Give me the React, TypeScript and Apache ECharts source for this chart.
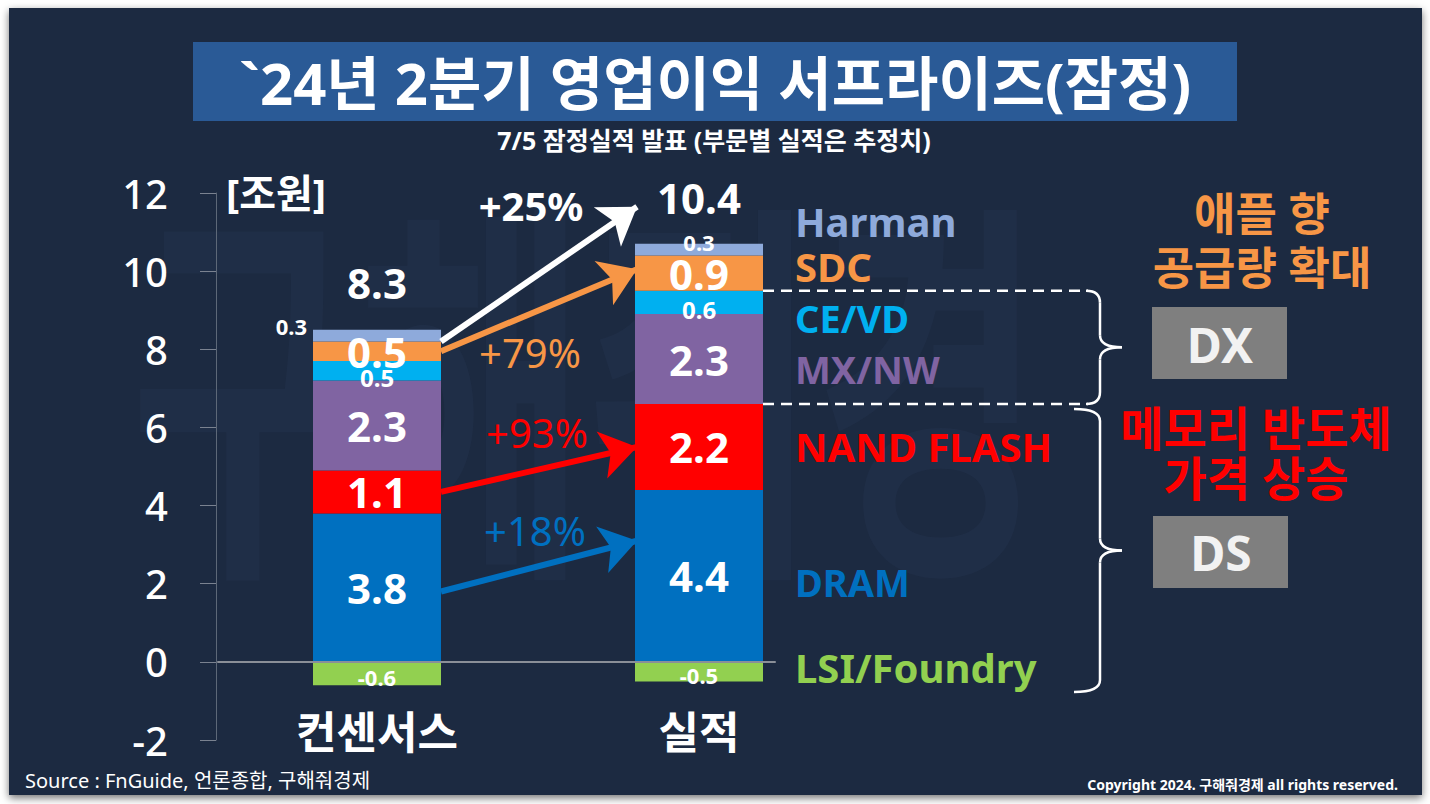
import React, { useEffect, useRef } from "react";
import * as echarts from "echarts";

// ---------- data ----------
const categories = ["컨센서스", "실적"];
const dram = [3.8, 4.4];
const nand = [1.1, 2.2];
const mxnw = [2.3, 2.3];
const cevd = [0.5, 0.6];
const sdc = [0.5, 0.9];
const harman = [0.3, 0.3];
const lsi = [-0.6, -0.5];
const totals = [8.3, 10.4];
const yMin = -2;
const yMax = 12;
const yInterval = 2;
const growthLabels = ["+25%", "+79%", "+93%", "+18%"];
const arrowFrom = [8.2, 7.95, 4.35, 1.8];
const arrowTo = [11.65, 10.05, 5.5, 3.1];

const C = {
  bg: "#1c2a41",
  title: "#2a5a96",
  harman: "#8eaadb",
  sdc: "#f79646",
  cevd: "#00b0f0",
  mxnw: "#8064a2",
  nand: "#ff0000",
  dram: "#0070c0",
  lsi: "#92d050",
  box: "#7f7f7f",
};
const arrowColors = ["#ffffff", C.sdc, C.nand, C.dram];
const FONT = "'Noto Sans', 'Noto Sans CJK KR', sans-serif";

const GRID_LEFT = 216;
const GRID_TOP = 193;
const GRID_W = 644;
const GRID_H = 547;
const BAR_W = 128;
const ARROW_HEAD = 36;

function txt(text: string, x: number, y: number, size: number, fill: string, opts: any = {}) {
  return {
    type: "text",
    x,
    y,
    z: 30,
    style: {
      text,
      fill,
      fontSize: size,
      fontWeight: opts.weight ?? "bold",
      fontFamily: FONT,
      align: opts.align ?? "center",
      verticalAlign: "middle",
    },
  };
}

function brace(xl: number, xv: number, xt: number, top: number, bottom: number) {
  const mid = (top + bottom) / 2;
  const r = 12;
  const s = { stroke: "#ffffff", lineWidth: 2.5, fill: "none" };
  return [
    { type: "bezierCurve", z: 30, shape: { x1: xl, y1: top, cpx1: xv, cpy1: top, x2: xv, y2: top + r }, style: s },
    { type: "line", z: 30, shape: { x1: xv, y1: top + r, x2: xv, y2: mid - r }, style: s },
    { type: "bezierCurve", z: 30, shape: { x1: xv, y1: mid - r, cpx1: xv, cpy1: mid, x2: xt, y2: mid }, style: s },
    { type: "bezierCurve", z: 30, shape: { x1: xt, y1: mid, cpx1: xv, cpy1: mid, x2: xv, y2: mid + r }, style: s },
    { type: "line", z: 30, shape: { x1: xv, y1: mid + r, x2: xv, y2: bottom - r }, style: s },
    { type: "bezierCurve", z: 30, shape: { x1: xv, y1: bottom - r, cpx1: xv, cpy1: bottom, x2: xl, y2: bottom }, style: s },
  ];
}

export default function App() {
  const ref = useRef<HTMLDivElement>(null);

  useEffect(() => {
    document.body.style.margin = "0";
    if (!ref.current) return;
    const chart = echarts.init(ref.current, null, { renderer: "svg" });

    const segLabel = (size: number, offset: number[] = [0, 0]) => ({
      show: true,
      position: "inside",
      color: "#ffffff",
      fontSize: size,
      fontWeight: "bold",
      fontFamily: FONT,
      offset,
      formatter: (p: any) => String(p.value),
    });

    const barBase = {
      type: "bar",
      stack: "op",
      barWidth: BAR_W,
      xAxisIndex: 0,
      yAxisIndex: 0,
    };

    const stackTops = categories.map(
      (_, i) => dram[i] + nand[i] + mxnw[i] + cevd[i] + sdc[i] + harman[i]
    );

    const bandFrac = 1 / categories.length;
    const barFrac = BAR_W / GRID_W;
    const fromX = bandFrac / 2 + barFrac / 2;
    const toX = bandFrac * 1.5 - barFrac / 2 + 2 / GRID_W;

    const yPx = (v: number) => GRID_TOP + ((yMax - v) / (yMax - yMin)) * GRID_H;
    const xRightBar = GRID_LEFT + GRID_W * (bandFrac * 1.5 + barFrac / 2);

    const option: any = {
      animation: false,
      grid: [
        { left: GRID_LEFT, top: GRID_TOP, width: GRID_W, height: GRID_H },
        { left: 218, top: GRID_TOP, width: 557, height: GRID_H },
      ],
      xAxis: [
        {
          gridIndex: 0,
          type: "category",
          data: categories,
          axisLine: { show: false },
          axisTick: { show: false },
          axisLabel: {
            margin: -30,
            color: "#ffffff",
            fontSize: 44,
            fontWeight: "bold",
            fontFamily: FONT,
          },
        },
        { gridIndex: 0, type: "value", min: 0, max: 1, show: false },
        {
          gridIndex: 1,
          type: "category",
          data: [""],
          z: 10,
          axisLine: { show: true, onZero: true, lineStyle: { color: "#8a8f98", width: 2 } },
          axisTick: { show: false },
          axisLabel: { show: false },
        },
      ],
      yAxis: [
        {
          gridIndex: 0,
          type: "value",
          min: yMin,
          max: yMax,
          interval: yInterval,
          splitLine: { show: false },
          axisLine: { show: true, lineStyle: { color: "#5d6878", width: 1 } },
          axisTick: { show: true, length: 16, lineStyle: { color: "#7a8290" } },
          axisLabel: {
            margin: 48,
            color: "#ffffff",
            fontSize: 40,
            fontWeight: 500,
            fontFamily: FONT,
          },
        },
        { gridIndex: 1, type: "value", min: yMin, max: yMax, show: false },
      ],
      series: [
        { ...barBase, name: "DRAM", data: dram, itemStyle: { color: C.dram }, label: segLabel(42) },
        { ...barBase, name: "NAND FLASH", data: nand, itemStyle: { color: C.nand }, label: segLabel(42) },
        { ...barBase, name: "MX/NW", data: mxnw, itemStyle: { color: C.mxnw }, label: segLabel(42) },
        { ...barBase, name: "CE/VD", data: cevd, itemStyle: { color: C.cevd }, label: segLabel(24, [0, 7]) },
        { ...barBase, name: "SDC", data: sdc, itemStyle: { color: C.sdc }, label: segLabel(42) },
        {
          ...barBase,
          name: "Harman",
          itemStyle: { color: C.harman },
          label: segLabel(22, [0, -8]),
          data: harman.map((v, i) =>
            i === 0
              ? { value: v, label: { position: "left", distance: 6, offset: [0, -10] } }
              : { value: v }
          ),
        },
        { ...barBase, name: "LSI/Foundry", data: lsi, itemStyle: { color: C.lsi }, label: segLabel(22, [0, 3]) },
        {
          type: "scatter",
          name: "total",
          xAxisIndex: 0,
          yAxisIndex: 0,
          symbolSize: 0,
          z: 20,
          itemStyle: { opacity: 1, color: "#ffffff" },
          data: stackTops.map((t, i) => ({
            value: [i, t],
            label: { distance: i === 0 ? 26 : 25 },
          })),
          label: {
            show: true,
            position: "top",
            color: "#ffffff",
            opacity: 1,
            fontSize: 42,
            fontWeight: "bold",
            fontFamily: FONT,
            formatter: (p: any) => String(totals[p.dataIndex]),
          },
        },
        {
          type: "lines",
          coordinateSystem: "cartesian2d",
          xAxisIndex: 1,
          yAxisIndex: 0,
          z: 15,
          symbol: ["none", "arrow"],
          symbolSize: [30, ARROW_HEAD],
          lineStyle: { width: 6, opacity: 1, curveness: 0 },
          data: arrowFrom.map((f, i) => ({
            coords: [
              [fromX, f],
              [toX, arrowTo[i]],
            ],
            lineStyle: { color: arrowColors[i] },
          })),
        },
      ],
      graphic: [
        // watermark
        {
          type: "text",
          x: 130,
          y: 190,
          z: 0,
          scaleX: 0.62,
          style: {
            text: "구해줘경",
            fill: "rgba(120,150,200,0.045)",
            fontSize: 400,
            fontWeight: "bold",
            fontFamily: FONT,
            align: "left",
            verticalAlign: "top",
          },
        },
        // title
        { type: "rect", z: 5, shape: { x: 193, y: 42, width: 1044, height: 79 }, style: { fill: C.title } },
        txt("`24년 2분기 영업이익 서프라이즈(잠정)", 715, 82, 58, "#ffffff"),
        txt("7/5 잠정실적 발표 (부문별 실적은 추정치)", 714, 140, 25, "#ffffff"),
        txt("[조원]", 226, 192, 40, "#ffffff", { align: "left" }),
        // growth labels
        txt(growthLabels[0], 531, 205, 40, arrowColors[0]),
        txt(growthLabels[1], 530, 352, 40, arrowColors[1], { weight: "normal" }),
        txt(growthLabels[2], 537, 432, 40, arrowColors[2], { weight: "normal" }),
        txt(growthLabels[3], 535, 530, 40, arrowColors[3], { weight: "normal" }),
        // segment names
        txt("Harman", 795, 221, 40, C.harman, { align: "left" }),
        txt("SDC", 795, 266, 40, C.sdc, { align: "left" }),
        txt("CE/VD", 795, 318, 38, C.cevd, { align: "left" }),
        txt("MX/NW", 795, 369, 38, C.mxnw, { align: "left" }),
        txt("NAND FLASH", 795, 446, 40, C.nand, { align: "left" }),
        txt("DRAM", 795, 582, 38, C.dram, { align: "left" }),
        txt("LSI/Foundry", 795, 667, 40, C.lsi, { align: "left" }),
        // dashed lines
        {
          type: "line",
          z: 30,
          shape: { x1: xRightBar, y1: yPx(9.5), x2: 1088, y2: yPx(9.5) },
          style: { stroke: "#ffffff", lineWidth: 2.5, lineDash: [11, 7] },
        },
        {
          type: "line",
          z: 30,
          shape: { x1: xRightBar, y1: yPx(6.6), x2: 1088, y2: yPx(6.6) },
          style: { stroke: "#ffffff", lineWidth: 2.5, lineDash: [11, 7] },
        },
        ...brace(1086, 1100, 1122, yPx(9.5), yPx(6.6)),
        ...brace(1074, 1100, 1122, 409, 692),
        // right notes
        txt("애플 향", 1262, 213, 45, C.sdc),
        txt("공급량 확대", 1262, 267, 45, C.sdc),
        { type: "rect", z: 20, shape: { x: 1152, y: 307, width: 135, height: 72 }, style: { fill: C.box } },
        txt("DX", 1220, 344, 48, "#f2f2f2"),
        txt("메모리 반도체", 1256, 428, 47, C.nand),
        txt("가격 상승", 1256, 478, 47, C.nand),
        { type: "rect", z: 20, shape: { x: 1153, y: 516, width: 135, height: 72 }, style: { fill: C.box } },
        txt("DS", 1221, 552, 48, "#f2f2f2"),
        // footer
        txt("Source : FnGuide, 언론종합, 구해줘경제", 25, 780, 20, "#ffffff", { align: "left", weight: "normal" }),
        txt("Copyright 2024. 구해줘경제 all rights reserved.", 1398, 784, 14, "#ffffff", { align: "right" }),
      ],
    };

    chart.setOption(option);
    return () => chart.dispose();
  }, []);

  return (
    <div style={{ position: "relative", width: 1430, height: 804, background: "#ffffff", overflow: "hidden" }}>
      <div
        style={{
          position: "absolute",
          left: 9,
          top: 8,
          width: 1413,
          height: 787,
          background: C.bg,
          boxShadow: "0 3px 8px rgba(0,0,0,0.55)",
        }}
      />
      <div ref={ref} style={{ position: "absolute", left: 0, top: 0, width: 1430, height: 804 }} />
    </div>
  );
}
